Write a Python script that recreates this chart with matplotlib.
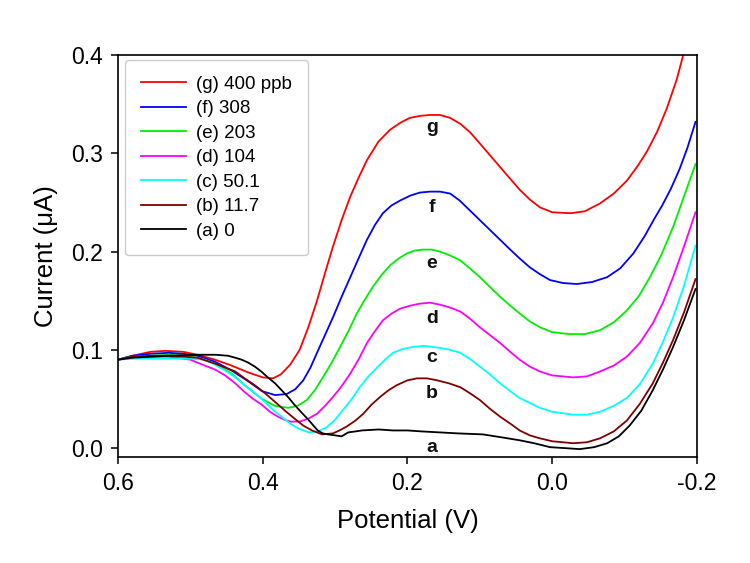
"""
Voltamogramas (SWASV) para concentrações crescentes - curvas a até g.
"""
import matplotlib
matplotlib.use("Agg")
import matplotlib.pyplot as plt

plt.rcParams["font.family"] = ["Liberation Sans", "DejaVu Sans"]
plt.rcParams["axes.unicode_minus"] = False

# Dados (potencial em V, corrente em uA)
red_x = [0.60, 0.58, 0.555, 0.535, 0.51, 0.49, 0.466, 0.443, 0.42, 0.40, 0.386, 0.375,
         0.362, 0.349, 0.337, 0.325, 0.314, 0.303, 0.291, 0.279, 0.267, 0.256, 0.24,
         0.224, 0.21, 0.197, 0.183, 0.169, 0.155, 0.141, 0.127, 0.113, 0.100, 0.086,
         0.072, 0.058, 0.045, 0.031, 0.017, 0.0, -0.025, -0.045, -0.066, -0.085, -0.103,
         -0.118, -0.131, -0.145, -0.158, -0.172, -0.181, -0.19]
red_y = [0.090, 0.094, 0.098, 0.099, 0.098, 0.095, 0.090, 0.084, 0.077, 0.072, 0.071, 0.075,
         0.085, 0.100, 0.123, 0.150, 0.178, 0.205, 0.232, 0.256, 0.276, 0.293, 0.312,
         0.324, 0.331, 0.336, 0.338, 0.339, 0.339, 0.336, 0.330, 0.321, 0.310, 0.298,
         0.286, 0.274, 0.263, 0.253, 0.245, 0.240, 0.239, 0.241, 0.249, 0.259, 0.272,
         0.287, 0.302, 0.322, 0.345, 0.375, 0.400, 0.425]

blue_x = [0.60, 0.58, 0.555, 0.53, 0.51, 0.49, 0.466, 0.443, 0.42, 0.401, 0.383, 0.367,
          0.355, 0.344, 0.334, 0.325, 0.314, 0.303, 0.291, 0.279, 0.267, 0.256, 0.245,
          0.234, 0.222, 0.210, 0.196, 0.183, 0.169, 0.155, 0.141, 0.128, 0.114, 0.100,
          0.086, 0.072, 0.058, 0.045, 0.031, 0.017, 0.003, -0.015, -0.034, -0.055, -0.076,
          -0.094, -0.112, -0.128, -0.14, -0.152, -0.164, -0.176, -0.187, -0.198]
blue_y = [0.090, 0.094, 0.096, 0.097, 0.096, 0.094, 0.088, 0.079, 0.068, 0.058, 0.054, 0.055,
          0.060, 0.069, 0.082, 0.097, 0.115, 0.133, 0.154, 0.174, 0.194, 0.212, 0.227,
          0.239, 0.247, 0.252, 0.257, 0.260, 0.261, 0.261, 0.259, 0.252, 0.242, 0.232,
          0.222, 0.212, 0.202, 0.193, 0.184, 0.177, 0.171, 0.168, 0.167, 0.169, 0.174,
          0.183, 0.198, 0.216, 0.232, 0.247, 0.264, 0.284, 0.306, 0.332]

green_x = [0.60, 0.58, 0.555, 0.53, 0.51, 0.49, 0.466, 0.443, 0.42, 0.401, 0.383, 0.365,
           0.352, 0.339, 0.327, 0.316, 0.304, 0.293, 0.281, 0.270, 0.259, 0.248, 0.236,
           0.224, 0.212, 0.201, 0.19, 0.179, 0.167, 0.155, 0.141, 0.127, 0.114, 0.100,
           0.086, 0.072, 0.058, 0.045, 0.031, 0.017, 0.0, -0.025, -0.045, -0.066, -0.085,
           -0.103, -0.12, -0.135, -0.151, -0.167, -0.182, -0.198]
green_y = [0.090, 0.093, 0.094, 0.095, 0.094, 0.092, 0.086, 0.076, 0.061, 0.050, 0.043, 0.041,
           0.043, 0.049, 0.060, 0.073, 0.088, 0.103, 0.120, 0.137, 0.151, 0.164, 0.176,
           0.186, 0.193, 0.198, 0.201, 0.202, 0.202, 0.200, 0.196, 0.191, 0.183, 0.174,
           0.164, 0.154, 0.145, 0.137, 0.129, 0.123, 0.118, 0.116, 0.116, 0.120, 0.128,
           0.140, 0.155, 0.174, 0.197, 0.225, 0.256, 0.289]

magenta_x = [0.60, 0.58, 0.555, 0.53, 0.50, 0.48, 0.466, 0.452, 0.438, 0.425, 0.413, 0.401,
             0.39, 0.379, 0.37, 0.362, 0.349, 0.337, 0.325, 0.314, 0.303, 0.291, 0.279,
             0.267, 0.256, 0.245, 0.234, 0.222, 0.210, 0.196, 0.183, 0.169, 0.155, 0.141,
             0.127, 0.114, 0.100, 0.086, 0.072, 0.058, 0.045, 0.031, 0.017, 0.0, -0.029,
             -0.048, -0.066, -0.085, -0.103, -0.121, -0.139, -0.153, -0.167, -0.182, -0.198]
magenta_y = [0.090, 0.092, 0.093, 0.093, 0.090, 0.084, 0.080, 0.074, 0.066, 0.057, 0.050, 0.044,
             0.037, 0.032, 0.029, 0.027, 0.027, 0.030, 0.035, 0.043, 0.052, 0.063, 0.076,
             0.091, 0.107, 0.119, 0.130, 0.137, 0.142, 0.145, 0.147, 0.148, 0.146, 0.143,
             0.139, 0.132, 0.123, 0.115, 0.107, 0.098, 0.090, 0.083, 0.078, 0.074, 0.072,
             0.073, 0.078, 0.084, 0.093, 0.107, 0.127, 0.148, 0.174, 0.205, 0.240]

cyan_x = [0.60, 0.58, 0.555, 0.53, 0.50, 0.48, 0.466, 0.452, 0.438, 0.425, 0.411, 0.397,
          0.386, 0.374, 0.362, 0.351, 0.336, 0.324, 0.312, 0.30, 0.289, 0.277, 0.266,
          0.254, 0.242, 0.231, 0.220, 0.206, 0.192, 0.178, 0.165, 0.155, 0.141, 0.127,
          0.114, 0.100, 0.086, 0.072, 0.058, 0.045, 0.031, 0.017, 0.0, -0.029, -0.048,
          -0.066, -0.085, -0.103, -0.121, -0.139, -0.153, -0.167, -0.182, -0.198]
cyan_y = [0.090, 0.091, 0.091, 0.091, 0.091, 0.090, 0.085, 0.079, 0.072, 0.064, 0.056, 0.047,
          0.039, 0.032, 0.025, 0.020, 0.016, 0.017, 0.021, 0.029, 0.039, 0.050, 0.062,
          0.073, 0.082, 0.090, 0.097, 0.101, 0.103, 0.104, 0.103, 0.102, 0.100, 0.097,
          0.091, 0.083, 0.075, 0.066, 0.058, 0.051, 0.046, 0.041, 0.037, 0.034, 0.034,
          0.037, 0.043, 0.051, 0.065, 0.086, 0.108, 0.133, 0.165, 0.206]

brown_x = [0.60, 0.58, 0.555, 0.53, 0.51, 0.49, 0.466, 0.452, 0.438, 0.425, 0.411, 0.397,
           0.383, 0.369, 0.356, 0.344, 0.332, 0.318, 0.303, 0.294, 0.284, 0.272, 0.261,
           0.250, 0.238, 0.226, 0.215, 0.20, 0.187, 0.173, 0.159, 0.143, 0.127, 0.114,
           0.100, 0.086, 0.072, 0.058, 0.045, 0.031, 0.017, 0.0, -0.029, -0.048, -0.066,
           -0.085, -0.103, -0.121, -0.139, -0.153, -0.167, -0.182, -0.198]
brown_y = [0.090, 0.093, 0.094, 0.094, 0.093, 0.092, 0.086, 0.082, 0.078, 0.071, 0.064, 0.056,
           0.047, 0.038, 0.030, 0.023, 0.018, 0.014, 0.015, 0.018, 0.022, 0.028, 0.035,
           0.044, 0.052, 0.059, 0.064, 0.069, 0.071, 0.071, 0.069, 0.066, 0.062, 0.056,
           0.049, 0.040, 0.032, 0.025, 0.018, 0.013, 0.010, 0.007, 0.005, 0.006, 0.010,
           0.017, 0.028, 0.045, 0.066, 0.087, 0.110, 0.138, 0.172]

black_x = [0.60, 0.58, 0.555, 0.53, 0.49, 0.465, 0.448, 0.438, 0.429, 0.42, 0.411, 0.402,
           0.393, 0.383, 0.374, 0.365, 0.356, 0.346, 0.337, 0.330, 0.324, 0.317, 0.310,
           0.300, 0.291, 0.282, 0.272, 0.263, 0.24, 0.22, 0.20, 0.18, 0.155, 0.13, 0.096,
           0.07, 0.045, 0.025, 0.003, -0.018, -0.038, -0.058, -0.076, -0.092, -0.107,
           -0.123, -0.139, -0.153, -0.167, -0.182, -0.198]
black_y = [0.090, 0.092, 0.093, 0.094, 0.095, 0.095, 0.094, 0.092, 0.090, 0.087, 0.083, 0.078,
           0.072, 0.066, 0.059, 0.052, 0.044, 0.036, 0.029, 0.023, 0.018, 0.015, 0.014,
           0.013, 0.012, 0.016, 0.017, 0.018, 0.019, 0.018, 0.018, 0.017, 0.016, 0.015, 0.014,
           0.011, 0.008, 0.005, 0.001, 0.000, -0.001, 0.001, 0.005, 0.012, 0.023,
           0.038, 0.059, 0.080, 0.103, 0.130, 0.162]

LEGEND_LABELS = ["(g) 400 ppb", "(f) 308", "(e) 203", "(d) 104", "(c) 50.1", "(b) 11.7", "(a) 0"]
CURVE_LETTERS = ["g", "f", "e", "d", "c", "b", "a"]
LETTER_X = 0.166
LETTER_Y = [0.326, 0.245, 0.188, 0.132, 0.092, 0.056, 0.001]
COLORS = ["#ff0000", "#0000ff", "#00ee00", "#ff00ff", "#00ffff", "#800000", "#000000"]

series_x = [red_x, blue_x, green_x, magenta_x, cyan_x, brown_x, black_x]
series_y = [red_y, blue_y, green_y, magenta_y, cyan_y, brown_y, black_y]

fig = plt.figure(figsize=(7.5, 5.63), dpi=100)
ax = fig.add_axes([0.1573, 0.1883, 0.772, 0.714])

for xs, ys, col, lab in zip(series_x, series_y, COLORS, LEGEND_LABELS):
    ax.plot(xs, ys, color=col, lw=1.3, label=lab)

for letter, ly in zip(CURVE_LETTERS, LETTER_Y):
    ax.text(LETTER_X, ly, letter, ha="center", va="center",
            fontsize=14, fontweight="bold", color="#111111")

ax.set_xlim(0.6, -0.2)
ax.set_ylim(-0.009, 0.4)
ax.set_xticks([0.6, 0.4, 0.2, 0.0, -0.2])
ax.set_xticklabels(["0.6", "0.4", "0.2", "0.0", "-0.2"])
ax.set_yticks([0.0, 0.1, 0.2, 0.3, 0.4])
ax.set_yticklabels(["0.0", "0.1", "0.2", "0.3", "0.4"])
ax.tick_params(direction="out", length=5, width=1.1, labelsize=16.5,
               top=False, right=False, pad=6)
for sp in ax.spines.values():
    sp.set_linewidth(1.2)

ax.set_xlabel("Potential (V)", fontsize=18.5, labelpad=10)
ax.set_ylabel("Current (\u03bcA)", fontsize=18.5, labelpad=9)

ax.legend(loc="upper left", fontsize=13.5, handlelength=2.4, labelspacing=0.39,
          borderpad=0.85, handletextpad=0.55, borderaxespad=0, frameon=True,
          fancybox=True, edgecolor="#cccccc", framealpha=1,
          bbox_to_anchor=(0.012, 0.988))

plt.savefig("out.png", dpi=100)
plt.close(fig)
